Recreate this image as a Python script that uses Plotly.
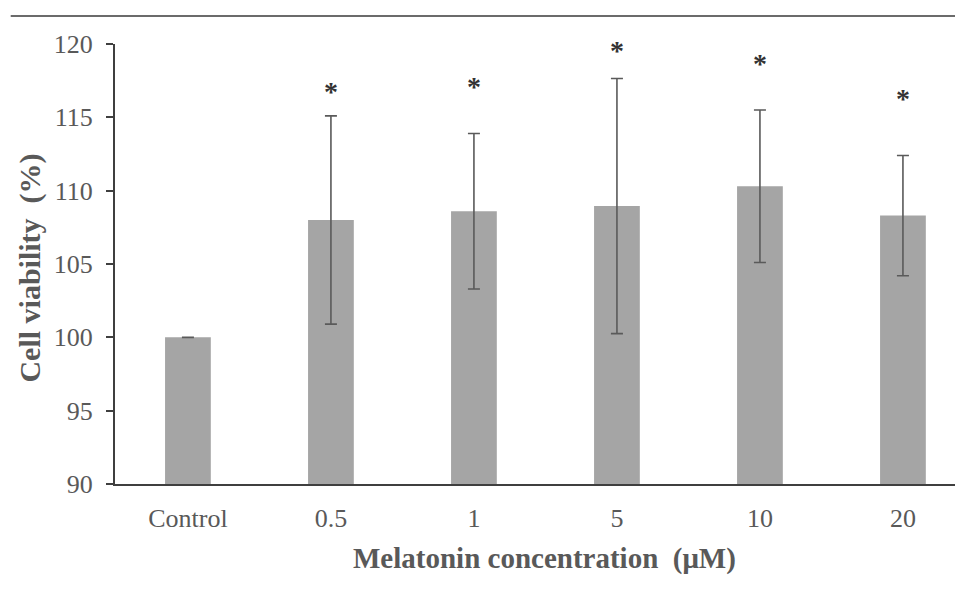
import plotly.graph_objects as go

categories = ["Control", "0.5", "1", "5", "10", "20"]
viability = [100.0, 108.0, 108.6, 108.95, 110.3, 108.3]
sd = [0.0, 7.1, 5.3, 8.7, 5.2, 4.1]
star_cats = ["0.5", "1", "5", "10", "20"]
star_y = [116.6, 116.9, 119.4, 118.5, 116.1]
y_ticks = [90, 95, 100, 105, 110, 115, 120]

TXT = "#595959"
AX = "#3f3f3f"
SERIF = "Liberation Serif"

fig = go.Figure()
fig.add_trace(go.Bar(
    x=categories, y=viability,
    marker=dict(color="#a5a5a5", line=dict(width=0)),
    error_y=dict(type="data", array=sd, visible=True, color="#5a5a5a",
                 thickness=1.6, width=6),
    showlegend=False,
))
fig.add_trace(go.Scatter(
    x=star_cats, y=star_y, mode="text", text=["<b>*</b>"] * len(star_cats),
    textposition="middle center", cliponaxis=False,
    textfont=dict(family=SERIF, size=28, color="#333333"),
    showlegend=False, hoverinfo="skip",
))

fig.update_layout(
    width=955, height=596,
    margin=dict(l=107, r=0, t=36, b=120),
    paper_bgcolor="white", plot_bgcolor="white",
    bargap=0.68,
    font=dict(family=SERIF, color=TXT),
    xaxis=dict(
        type="category", range=[-0.51, 5.42],
        showline=True, linecolor=AX, linewidth=2,
        ticks="", showgrid=False, zeroline=False,
        tickfont=dict(family=SERIF, size=26, color=TXT),
        ticklabelstandoff=10,
    ),
    yaxis=dict(
        range=[90, 120], tickvals=y_ticks,
        showline=True, linecolor=AX, linewidth=2,
        ticks="outside", ticklen=7, tickwidth=2, tickcolor=AX,
        showgrid=False, zeroline=False,
        tickfont=dict(family=SERIF, size=26, color=TXT),
        ticklabelstandoff=8,
    ),
    annotations=[
        dict(text="<b>Melatonin concentration  (μM)</b>", xref="paper", yref="paper",
             x=0.507, y=-0.17, xanchor="center", yanchor="middle", showarrow=False,
             font=dict(family=SERIF, size=29, color=TXT)),
        dict(text="<b>Cell viability  (%)</b>", xref="paper", yref="paper",
             x=-0.1, y=0.49, xanchor="center", yanchor="middle", showarrow=False,
             textangle=-90, font=dict(family=SERIF, size=30, color=TXT)),
    ],
    shapes=[
        dict(type="line", xref="paper", yref="paper", x0=-0.123, x1=1.0,
             y0=1.0636, y1=1.0636, line=dict(color="#6b6b6b", width=2)),
    ],
)

fig.write_html("out.html")
